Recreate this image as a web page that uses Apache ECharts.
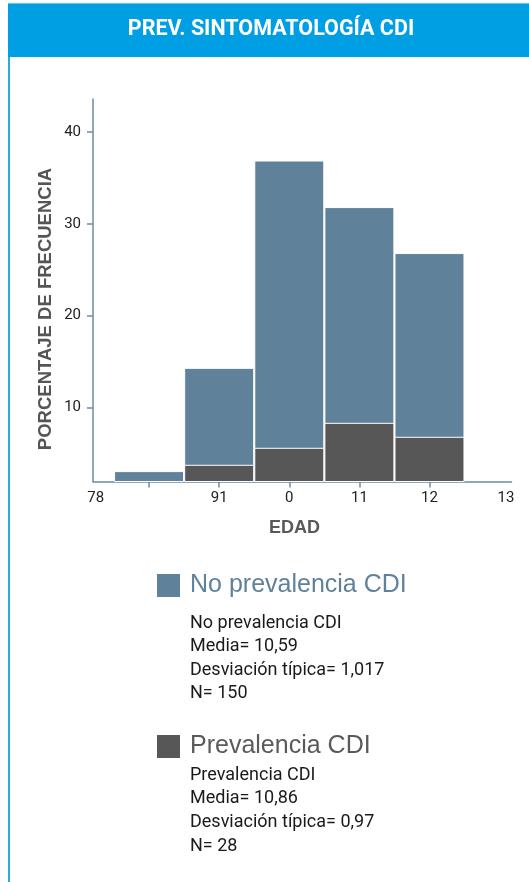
<!DOCTYPE html>
<html>
<head>
<meta charset="utf-8">
<script src="https://cdn.jsdelivr.net/npm/echarts@6/dist/echarts.min.js"></script>
<style>
html,body{margin:0;padding:0;background:#fff;}
#chart{width:529px;height:882px;}
</style>
</head>
<body>
<div id="chart"></div>
<script>
// ---- data ----
const binCentres = [8, 9, 10, 11, 12];
const noPrevalencia = [3.07, 14.32, 36.9, 31.83, 26.82];
const prevalencia = [null, 3.76, 5.61, 8.33, 6.81];
const xTickValues = [8, 9, 10, 11, 12];
const xLabelValues = [7.24, 9, 10, 11, 12, 13.09];
const xLabelTexts = ['78', '91', '0', '11', '12', '13'];
const yTickValues = [10, 20, 30, 40];
const seriesNames = ['No prevalencia CDI', 'Prevalencia CDI'];
const statsNo = ['No prevalencia CDI', 'Media= 10,59', 'Desviación típica= 1,017', 'N= 150'];
const statsSi = ['Prevalencia CDI', 'Media= 10,86', 'Desviación típica= 0,97', 'N= 28'];

const NARROW = "Roboto, 'Liberation Sans', sans-serif";
const SANS = "'Liberation Sans', Arial, sans-serif";
const BLUE = '#5f829a';
const DARK = '#575757';
const AXIS = '#6b8ba4';

const chart = echarts.init(document.getElementById('chart'), null, {renderer: 'canvas'});

const option = {
  animation: false,
  backgroundColor: '#ffffff',
  grid: {left: 93, right: 17.5, top: 99, bottom: 400.5, containLabel: false},
  xAxis: {
    type: 'value',
    min: 7.2,
    max: 13.17,
    axisLine: {show: true, onZero: false, lineStyle: {color: AXIS, width: 1.5}},
    axisTick: {show: true, customValues: xTickValues, length: 6, lineStyle: {color: AXIS, width: 1.5}},
    axisLabel: {
      customValues: xLabelValues,
      margin: 9,
      color: '#222',
      fontFamily: NARROW,
      fontSize: 15,
      formatter: function (v) {
        for (let i = 0; i < xLabelValues.length; i++) {
          if (Math.abs(xLabelValues[i] - v) < 1e-6) return xLabelTexts[i];
        }
        return '';
      }
    },
    splitLine: {show: false}
  },
  yAxis: {
    type: 'value',
    min: 1.94,
    max: 43.6,
    axisLine: {show: true, onZero: false, lineStyle: {color: AXIS, width: 1.5}},
    axisTick: {show: true, customValues: yTickValues, length: 6, lineStyle: {color: AXIS, width: 1.5}},
    axisLabel: {customValues: yTickValues, margin: 12, color: '#222', fontFamily: NARROW, fontSize: 15},
    splitLine: {show: false}
  },
  legend: {
    orient: 'vertical',
    left: 150,
    top: 567,
    itemWidth: 25,
    itemHeight: 25,
    itemGap: 134,
    icon: 'rect',
    selectedMode: false,
    textStyle: {fontFamily: SANS, fontSize: 25, lineHeight: 25, padding: [0, 0, 0, 4]},
    data: [
      {name: seriesNames[0], textStyle: {color: BLUE}},
      {name: seriesNames[1], textStyle: {color: '#5a5a5a'}}
    ]
  },
  series: [
    {
      name: seriesNames[0],
      type: 'bar',
      barWidth: 70,
      barGap: '-100%',
      clip: true,
      itemStyle: {color: BLUE, borderColor: '#ffffff', borderWidth: 1},
      data: binCentres.map((c, i) => [c, noPrevalencia[i]])
    },
    {
      name: seriesNames[1],
      type: 'bar',
      barWidth: 70,
      barGap: '-100%',
      clip: true,
      itemStyle: {color: DARK, borderColor: '#ffffff', borderWidth: 1},
      data: binCentres.map((c, i) => [c, prevalencia[i]]).filter(d => d[1] != null)
    }
  ],
  graphic: [
    {type: 'rect', shape: {x: 8, y: 2.5, width: 521, height: 1}, style: {fill: '#dcdcdc'}, silent: true},
    {type: 'rect', shape: {x: 8, y: 3.5, width: 521, height: 53.5}, style: {fill: '#009fe3'}, silent: true},
    {type: 'rect', shape: {x: 8, y: 57, width: 2, height: 825}, style: {fill: '#29aae2'}, silent: true},
    {type: 'text', x: 271, y: 30, silent: true,
      style: {text: 'PREV. SINTOMATOLOGÍA CDI', fill: '#ffffff', font: "bold 21.5px " + NARROW,
        textAlign: 'center', textVerticalAlign: 'middle'}},
    {type: 'text', x: 46, y: 309, rotation: Math.PI / 2, silent: true,
      style: {text: 'PORCENTAJE DE FRECUENCIA', fill: '#555555', font: "bold 18.5px " + SANS,
        textAlign: 'center', textVerticalAlign: 'middle'}},
    {type: 'text', x: 294.5, y: 528, silent: true,
      style: {text: 'EDAD', fill: '#595959', font: "bold 18px " + SANS,
        textAlign: 'center', textVerticalAlign: 'middle'}},
    {type: 'text', x: 190, y: 611.5, silent: true,
      style: {text: statsNo.join('\n'), fill: '#1a1a1a', font: "18px " + NARROW, lineHeight: 23.4,
        textAlign: 'left', textVerticalAlign: 'top'}},
    {type: 'text', x: 190, y: 763.5, silent: true,
      style: {text: statsSi.join('\n'), fill: '#1a1a1a', font: "18px " + NARROW, lineHeight: 23.6,
        textAlign: 'left', textVerticalAlign: 'top'}}
  ]
};
chart.setOption(option);
</script>
</body>
</html>
